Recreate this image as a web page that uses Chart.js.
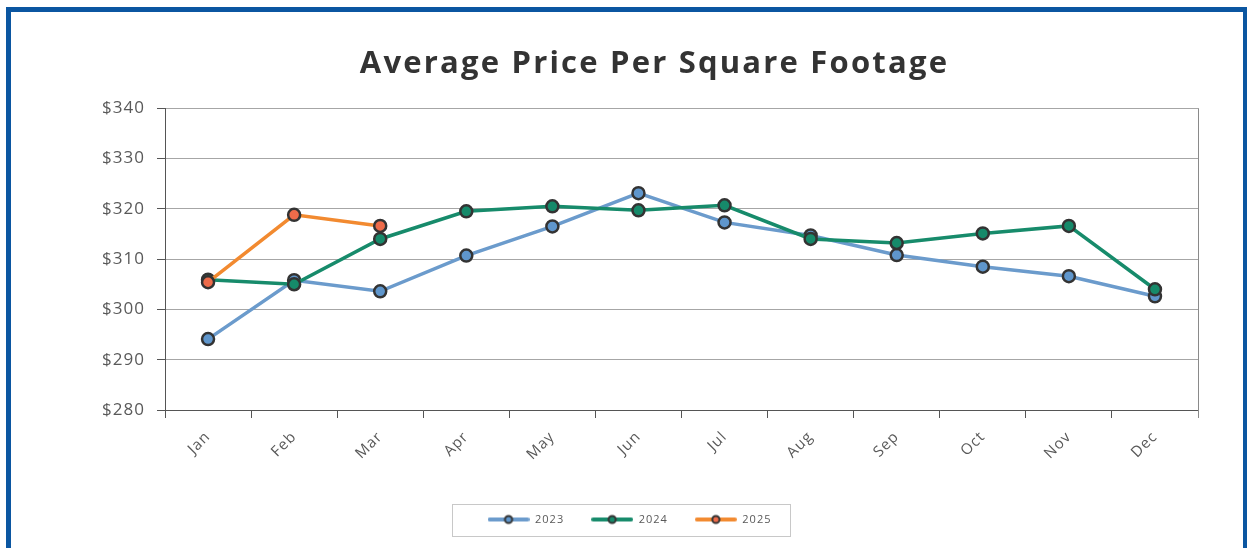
<!DOCTYPE html>
<html>
<head>
<meta charset="utf-8">
<script src="https://cdn.jsdelivr.net/npm/chart.js@4.4.1/dist/chart.umd.min.js"></script>
<style>
html,body{margin:0;padding:0;background:#fff;overflow:hidden;}
#frame{position:absolute;left:6px;top:7px;width:1232px;height:600px;border:5px solid #0b56a1;border-right-width:4px;background:#fff;}
#wrap{position:absolute;left:0;top:0;width:1247px;height:548px;}
</style>
</head>
<body>
<div id="frame"></div>
<div id="wrap"><canvas id="c" width="1247" height="548"></canvas></div>
<script>
const months = ['Jan','Feb','Mar','Apr','May','Jun','Jul','Aug','Sep','Oct','Nov','Dec'];
const values2023 = [294.1, 305.8, 303.6, 310.7, 316.5, 323.1, 317.3, 314.7, 310.8, 308.5, 306.6, 302.6];
const values2024 = [305.9, 305.0, 314.0, 319.5, 320.5, 319.7, 320.7, 314.0, 313.2, 315.1, 316.6, 304.0];
const values2025 = [305.4, 318.8, 316.6];
const yTicks = [280, 290, 300, 310, 320, 330, 340];

function legendIcon(lineColor, fillColor) {
  const c = document.createElement('canvas');
  c.width = 42; c.height = 12;
  const g = c.getContext('2d');
  g.strokeStyle = lineColor; g.lineWidth = 4; g.lineCap = 'round';
  g.beginPath(); g.moveTo(2, 6); g.lineTo(40, 6); g.stroke();
  g.beginPath(); g.arc(21, 6, 3.6, 0, Math.PI * 2);
  g.fillStyle = fillColor; g.fill();
  g.lineWidth = 2; g.strokeStyle = '#333'; g.stroke();
  return c;
}

const series = [
  {label: '2023', data: values2023, line: '#6b9bcc', fill: '#5f96cc', order: 3},
  {label: '2024', data: values2024, line: '#178b6b', fill: '#168a6a', order: 2},
  {label: '2025', data: values2025, line: '#f28a30', fill: '#ee6b4a', order: 1}
];

const spacingPlugin = {
  id: 'spacing',
  beforeDraw(chart) {
    chart.ctx.letterSpacing = '1px';
    const tb = chart.titleBlock;
    if (tb && !tb._wrapped) {
      const orig = tb.draw.bind(tb);
      tb.draw = function () {
        const ctx = chart.ctx;
        ctx.save();
        ctx.letterSpacing = '2.2px';
        ctx.translate(31, 0);
        orig();
        ctx.restore();
      };
      tb._wrapped = true;
    }
  }
};

const boxPlugin = {
  id: 'boxes',
  afterDraw(chart) {
    const ctx = chart.ctx, a = chart.chartArea;
    ctx.save();
    ctx.strokeStyle = '#8a8a8a'; ctx.lineWidth = 1;
    ctx.beginPath(); ctx.moveTo(Math.round(a.right) + 0.5, a.top); ctx.lineTo(Math.round(a.right) + 0.5, a.bottom + 8); ctx.stroke();
    const lg = chart.legend;
    if (lg && lg.legendHitBoxes && lg.legendHitBoxes.length) {
      const hb = lg.legendHitBoxes;
      const l = Math.min(...hb.map(h => h.left)) - 36;
      const r = Math.max(...hb.map(h => h.left + h.width)) + 30;
      const cy = hb[0].top + hb[0].height / 2;
      ctx.strokeStyle = '#c8c8c8';
      ctx.strokeRect(Math.round(l) + 0.5, Math.round(cy - 16) + 0.5, Math.round(r - l), 32);
    }
    ctx.restore();
  }
};

new Chart(document.getElementById('c'), {
  type: 'line',
  data: {
    labels: months,
    datasets: series.map(s => ({
      label: s.label, data: s.data, order: s.order,
      borderColor: s.line, backgroundColor: s.fill,
      borderWidth: 3.5, tension: 0,
      pointRadius: 6, pointHoverRadius: 6,
      pointBackgroundColor: s.fill, pointBorderColor: '#333', pointBorderWidth: 2.5,
      pointStyle: 'circle'
    }))
  },
  options: {
    responsive: false, animation: false,
    layout: {padding: {left: 49, right: 49, top: 20, bottom: 19}},
    plugins: {
      title: {display: true, text: 'Average Price Per Square Footage', color: '#333',
        font: {family: 'Open Sans', size: 31, weight: 'bold'}, padding: {top: 26, bottom: 25}},
      legend: {position: 'bottom', maxHeight: 42,
        labels: {
          usePointStyle: true, pointStyleWidth: 42, padding: 27, color: '#595959',
          font: {family: 'Open Sans', size: 11},
          generateLabels(chart) {
            return series.map((s, i) => ({
              text: s.label, datasetIndex: i, pointStyle: legendIcon(s.line, s.fill),
              fontColor: '#595959', hidden: false, lineWidth: 0
            }));
          }
        }
      },
      tooltip: {enabled: false}
    },
    scales: {
      x: {
        offset: true,
        grid: {offset: true, drawOnChartArea: false, drawTicks: true, tickLength: 8, tickColor: '#555', color: '#555'},
        border: {color: '#555', width: 1},
        ticks: {minRotation: 45, maxRotation: 45, padding: 10, color: '#595959', font: {family: 'Open Sans', size: 15}},
        afterFit(scale) { scale.height = 77; }
      },
      y: {
        min: 280, max: 340,
        afterBuildTicks(scale) { scale.ticks = yTicks.map(v => ({value: v})); },
        grid: {color: '#a6a6a6', tickLength: 8, tickColor: '#555'},
        border: {color: '#555', width: 1},
        ticks: {padding: 12, color: '#595959', font: {family: 'Open Sans', size: 17},
          callback: v => '$' + v},
        afterFit(scale) { scale.width = 116; }
      }
    }
  },
  plugins: [spacingPlugin, boxPlugin]
});
</script>
</body>
</html>
